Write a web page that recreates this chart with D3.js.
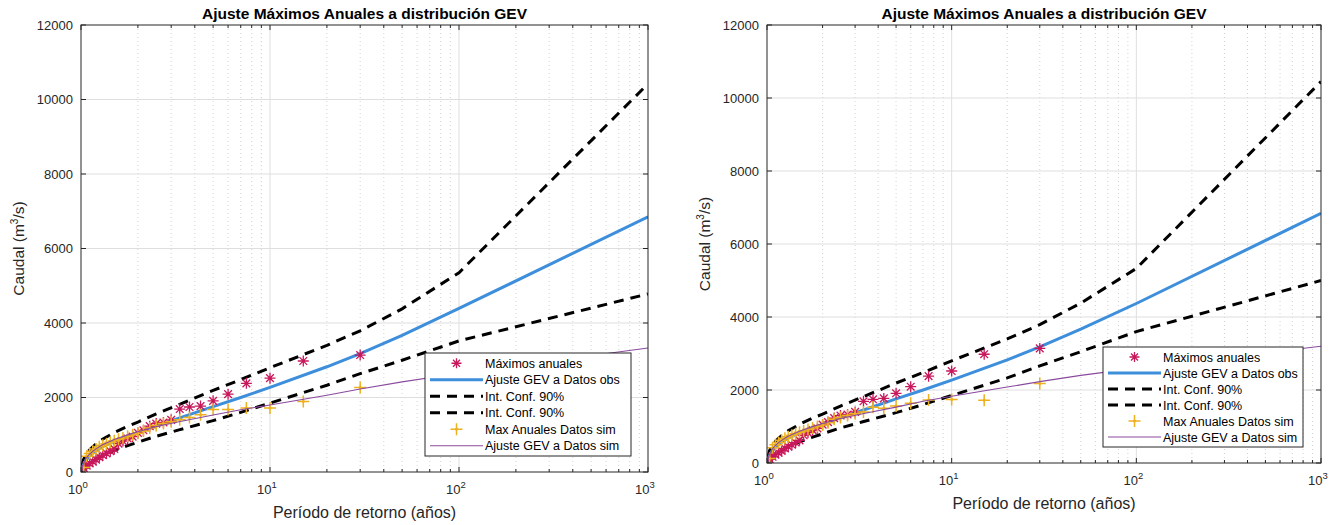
<!DOCTYPE html>
<html lang="es">
<head>
<meta charset="UTF-8">
<title>Ajuste Máximos Anuales a distribución GEV</title>
<style>
  body { margin: 0; background: #fff; }
  svg { display: block; font-family: "Liberation Sans", Arial, sans-serif; }
</style>
</head>
<body>
<script src="https://d3js.org/d3.v7.min.js"></script>
<script>
// Periodos de retorno de los máximos anuales (29 años, Weibull)
const periodos = [30, 15, 10, 7.5, 6, 5, 4.29, 3.75, 3.33, 3, 2.73, 2.5, 2.31, 2.14, 2,
    1.875, 1.765, 1.667, 1.579, 1.5, 1.429, 1.364, 1.304, 1.25, 1.2, 1.154, 1.111, 1.071, 1.034];

// Máximos anuales observados (iguales en las dos figuras)
const maxObs = [3140, 2980, 2520, 2380, 2090, 1910, 1770, 1745, 1690, 1400, 1330, 1300, 1230, 1120, 1050,
    950, 900, 830, 760, 620, 560, 500, 450, 400, 330, 280, 230, 170, 100];

// Máximos anuales simulados
const maxSimIzq = [2270, 1890, 1720, 1720, 1680, 1680, 1540, 1460, 1400, 1350, 1300, 1250, 1180, 1100, 1040,
    1000, 960, 910, 880, 840, 800, 760, 720, 680, 620, 560, 500, 420, 120];
const maxSimDer = [2180, 1720, 1740, 1725, 1640, 1560, 1500, 1530, 1400, 1350, 1300, 1250, 1200, 1100, 1040,
    1000, 960, 920, 880, 840, 800, 760, 720, 680, 620, 560, 500, 420, 120];

// Curvas ajustadas (periodo de retorno -> caudal)
const tCurva    = [1.01, 1.03, 1.06, 1.1, 1.15, 1.2, 1.3, 1.5, 1.75, 2, 2.5, 3.3, 5, 7, 10, 20, 30, 50, 100, 1000];
const gevObsIzq = [40, 190, 310, 410, 500, 570, 680, 830, 955, 1060, 1235, 1445, 1755, 2000, 2270, 2825, 3180, 3665, 4390, 6850];
const supIzq    = [150, 330, 460, 570, 670, 750, 880, 1060, 1220, 1340, 1560, 1810, 2190, 2480, 2800, 3400, 3790, 4380, 5350, 10420];
const infIzq    = [0, 60, 140, 210, 280, 340, 440, 580, 700, 800, 960, 1130, 1380, 1600, 1850, 2330, 2640, 3000, 3520, 4780];
const gevSimIzq = [60, 230, 360, 460, 550, 620, 730, 870, 990, 1080, 1220, 1350, 1530, 1670, 1800, 2060, 2230, 2420, 2650, 3330];

const gevObsDer = [40, 190, 310, 410, 500, 570, 680, 830, 955, 1060, 1235, 1445, 1755, 2000, 2270, 2825, 3180, 3665, 4370, 6840];
const supDer    = [150, 330, 460, 570, 670, 750, 880, 1060, 1220, 1340, 1560, 1810, 2190, 2480, 2800, 3400, 3790, 4380, 5330, 10450];
const infDer    = [0, 60, 140, 210, 280, 340, 440, 580, 700, 800, 960, 1130, 1380, 1600, 1850, 2330, 2660, 3050, 3600, 5000];
const gevSimDer = [60, 230, 360, 460, 550, 620, 730, 870, 990, 1080, 1220, 1350, 1530, 1690, 1830, 2080, 2230, 2400, 2600, 3200];

const yTicks = [0, 2000, 4000, 6000, 8000, 10000, 12000];
const xTicks = [1, 10, 100, 1000];
const leyenda = ["Máximos anuales", "Ajuste GEV a Datos obs", "Int. Conf. 90%", "Int. Conf. 90%",
    "Max Anuales Datos sim", "Ajuste GEV a Datos sim"];

const colObs = "#c8175b", colSim = "#edb120", colAzul = "#3d8edb", colLila = "#8a4a9e";

const svg = d3.select("body").append("svg")
    .attr("width", 1341)
    .attr("height", 525);

function asterisco(g, x, y, color, r) {
    const p = `M${x - r},${y}H${x + r}M${x},${y - r}V${y + r}` +
        `M${x - r * 0.7},${y - r * 0.7}L${x + r * 0.7},${y + r * 0.7}` +
        `M${x - r * 0.7},${y + r * 0.7}L${x + r * 0.7},${y - r * 0.7}`;
    g.append("path").attr("d", p).attr("stroke", color).attr("stroke-width", 1.3).attr("fill", "none");
}
function mas(g, x, y, color, r) {
    g.append("path").attr("d", `M${x - r},${y}H${x + r}M${x},${y - r}V${y + r}`)
        .attr("stroke", color).attr("stroke-width", 1.5).attr("fill", "none");
    g.append("path").attr("d", `M${x - 2},${y}L${x},${y - 2}L${x + 2},${y}L${x},${y + 2}Z`)
        .attr("fill", color);
}

function panel(cfg, id) {
    const x = d3.scaleLog().domain([1, 1000]).range([cfg.x0, cfg.x1]);
    const y = d3.scaleLinear().domain([0, 12000]).range([cfg.y1, cfg.y0]);
    const g = svg.append("g");

    g.append("clipPath").attr("id", "clip" + id)
        .append("rect").attr("x", cfg.x0).attr("y", cfg.y0)
        .attr("width", cfg.x1 - cfg.x0).attr("height", cfg.y1 - cfg.y0);

    // rejilla menor (x)
    const menores = [];
    for (let d = 1; d < 1000; d *= 10)
        for (let k = 2; k <= 9; k++) menores.push(d * k);
    g.selectAll(".gmin").data(menores).join("line")
        .attr("x1", d => x(d)).attr("x2", d => x(d))
        .attr("y1", cfg.y0).attr("y2", cfg.y1)
        .attr("stroke", "#c8c8c8").attr("stroke-width", 0.8).attr("stroke-dasharray", "1,3");
    // rejilla mayor
    g.selectAll(".gx").data(xTicks.slice(1, 3)).join("line")
        .attr("x1", d => x(d)).attr("x2", d => x(d))
        .attr("y1", cfg.y0).attr("y2", cfg.y1)
        .attr("stroke", "#dedede").attr("stroke-width", 1);
    g.selectAll(".gy").data(yTicks.slice(1, -1)).join("line")
        .attr("x1", cfg.x0).attr("x2", cfg.x1)
        .attr("y1", d => y(d)).attr("y2", d => y(d))
        .attr("stroke", "#dedede").attr("stroke-width", 1);

    // curvas
    const linea = d3.line().x(d => x(d[0])).y(d => y(d[1]));
    const curvas = g.append("g").attr("clip-path", `url(#clip${id})`);
    const serie = v => tCurva.map((t, i) => [t, v[i]]);
    curvas.append("path").attr("d", linea(serie(cfg.sup))).attr("fill", "none")
        .attr("stroke", "#000").attr("stroke-width", 3).attr("stroke-dasharray", "10,7");
    curvas.append("path").attr("d", linea(serie(cfg.inf))).attr("fill", "none")
        .attr("stroke", "#000").attr("stroke-width", 3).attr("stroke-dasharray", "10,7");

    // puntos
    const pts = g.append("g").attr("clip-path", `url(#clip${id})`);
    periodos.forEach((t, i) => asterisco(pts, x(t), y(maxObs[i]), colObs, 5.5));

    curvas.append("path").attr("d", linea(serie(cfg.gevObs))).attr("fill", "none")
        .attr("stroke", colAzul).attr("stroke-width", 3);
    periodos.forEach((t, i) => mas(pts, x(t), y(cfg.maxSim[i]), colSim, 6));
    pts.append("path").attr("d", linea(serie(cfg.gevSim))).attr("fill", "none")
        .attr("stroke", colLila).attr("stroke-width", 1.1);

    // marco y marcas
    const W = cfg.x1 - cfg.x0, H = cfg.y1 - cfg.y0;
    g.append("rect").attr("x", cfg.x0).attr("y", cfg.y0).attr("width", W).attr("height", H)
        .attr("fill", "none").attr("stroke", "#262626").attr("stroke-width", 1);
    const marcas = g.append("g").attr("stroke", "#262626").attr("stroke-width", 1);
    yTicks.forEach(v => {
        marcas.append("line").attr("x1", cfg.x0).attr("x2", cfg.x0 + 5).attr("y1", y(v)).attr("y2", y(v));
        marcas.append("line").attr("x1", cfg.x1).attr("x2", cfg.x1 - 5).attr("y1", y(v)).attr("y2", y(v));
    });
    xTicks.forEach(v => {
        marcas.append("line").attr("x1", x(v)).attr("x2", x(v)).attr("y1", cfg.y1).attr("y2", cfg.y1 - 5);
        marcas.append("line").attr("x1", x(v)).attr("x2", x(v)).attr("y1", cfg.y0).attr("y2", cfg.y0 + 5);
    });
    menores.forEach(v => {
        marcas.append("line").attr("x1", x(v)).attr("x2", x(v)).attr("y1", cfg.y1).attr("y2", cfg.y1 - 3);
        marcas.append("line").attr("x1", x(v)).attr("x2", x(v)).attr("y1", cfg.y0).attr("y2", cfg.y0 + 3);
    });

    // etiquetas
    g.selectAll(".yl").data(yTicks).join("text")
        .attr("x", cfg.x0 - 8).attr("y", d => y(d) + 4.5)
        .attr("text-anchor", "end").attr("font-size", 13).attr("fill", "#262626")
        .text(d => d);
    const xl = g.selectAll(".xl").data(xTicks).join("text")
        .attr("x", d => x(d) - 3).attr("y", cfg.y1 + 22)
        .attr("text-anchor", "middle").attr("font-size", 13).attr("fill", "#262626");
    xl.append("tspan").text("10");
    xl.append("tspan").attr("dy", -6).attr("font-size", 9.5).text(d => Math.round(Math.log10(d)));

    g.append("text").attr("x", (cfg.x0 + cfg.x1) / 2).attr("y", cfg.y0 - 6.5)
        .attr("text-anchor", "middle").attr("font-size", 15.5).attr("font-weight", "bold")
        .attr("fill", "#000").text("Ajuste Máximos Anuales a distribución GEV");
    g.append("text").attr("x", (cfg.x0 + cfg.x1) / 2).attr("y", cfg.y1 + 46)
        .attr("text-anchor", "middle").attr("font-size", 16).attr("fill", "#262626")
        .text("Período de retorno (años)");
    const yt = g.append("text")
        .attr("transform", `translate(${cfg.x0 - 57},${(cfg.y0 + cfg.y1) / 2}) rotate(-90)`)
        .attr("text-anchor", "middle").attr("font-size", 15.5).attr("fill", "#262626");
    yt.append("tspan").text("Caudal (m");
    yt.append("tspan").attr("dy", -6).attr("font-size", 10).text("3");
    yt.append("tspan").attr("dy", 6).text("/s)");

    // leyenda
    const L = cfg.leg;
    const lg = g.append("g");
    lg.append("rect").attr("x", L.x).attr("y", L.y).attr("width", L.w).attr("height", L.h)
        .attr("fill", "#fff").attr("stroke", "#262626").attr("stroke-width", 1);
    const paso = (L.h - 4) / leyenda.length;
    leyenda.forEach((txt, i) => {
        const cy = L.y + 2 + paso * (i + 0.5);
        const a = L.x + 5, b = L.x + 58;
        if (i === 0) asterisco(lg, (a + b) / 2, cy, colObs, 5);
        if (i === 1) lg.append("line").attr("x1", a).attr("x2", b).attr("y1", cy).attr("y2", cy)
            .attr("stroke", colAzul).attr("stroke-width", 3);
        if (i === 2 || i === 3) lg.append("line").attr("x1", a).attr("x2", b).attr("y1", cy).attr("y2", cy)
            .attr("stroke", "#000").attr("stroke-width", 3).attr("stroke-dasharray", "10,7");
        if (i === 4) mas(lg, (a + b) / 2, cy, colSim, 6);
        if (i === 5) lg.append("line").attr("x1", a).attr("x2", b).attr("y1", cy).attr("y2", cy)
            .attr("stroke", colLila).attr("stroke-width", 1.1);
        lg.append("text").attr("x", L.x + 60).attr("y", cy + 4.5)
            .attr("font-size", 12.5).attr("fill", "#000").text(txt);
    });
}

panel({x0: 81, x1: 648, y0: 25, y1: 472,
    gevObs: gevObsIzq, sup: supIzq, inf: infIzq, gevSim: gevSimIzq, maxSim: maxSimIzq,
    leg: {x: 425, y: 353, w: 206, h: 103}}, 1);
panel({x0: 767, x1: 1321, y0: 25, y1: 463,
    gevObs: gevObsDer, sup: supDer, inf: infDer, gevSim: gevSimDer, maxSim: maxSimDer,
    leg: {x: 1103, y: 347, w: 200, h: 100}}, 2);
</script>
</body>
</html>
